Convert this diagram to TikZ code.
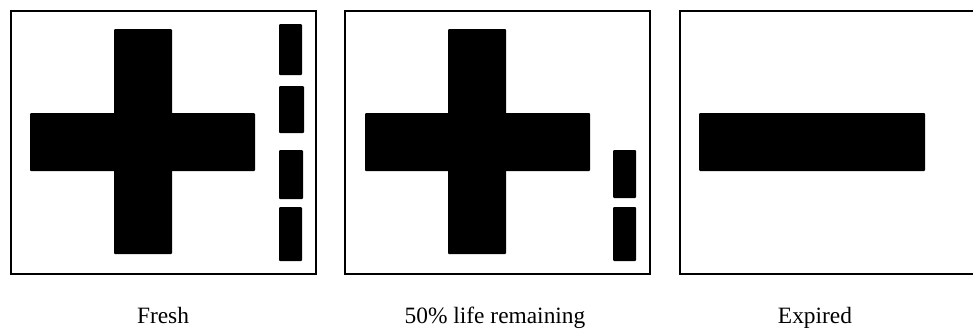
\documentclass[tikz,border=0pt]{standalone}
\usepackage{fontspec}
\setmainfont{Liberation Serif}
\begin{document}
\begin{tikzpicture}[
  x=0.5pt,y=-0.5pt,
  panel/.style={draw=black,line width=1.3pt},
  ink/.style={fill=black,rounded corners=0.5pt},
  caption/.style={font=\fontsize{11.7}{14}\selectfont,anchor=base}
]
\useasboundingbox (0,0) rectangle (973,328);
% fresh
\draw[panel] (11,11) rectangle (316,274);
\fill[ink] (114,29) rectangle (172,254);
\fill[ink] (30,113) rectangle (255,171);
\fill[ink] (279,24) rectangle (302,75);
\fill[ink] (279,86) rectangle (304,133);
\fill[ink] (279,150) rectangle (303,199);
\fill[ink] (279,207) rectangle (302,261);
\node[caption] (fresh) at (163,323) {Fresh};
% half life
\draw[panel] (345,11) rectangle (650,274);
\fill[ink] (448,29) rectangle (506,254);
\fill[ink] (365,113) rectangle (590,171);
\fill[ink] (613,150) rectangle (636,198);
\fill[ink] (613,207) rectangle (636,261);
\node[caption] (half) at (495,323) {50\% life remaining};
% expired
\draw[panel] (680,11) rectangle (985,274);
\fill[ink] (699,113) rectangle (925,171);
\node[caption] (expired) at (815,323) {Expired};
\end{tikzpicture}
\end{document}
